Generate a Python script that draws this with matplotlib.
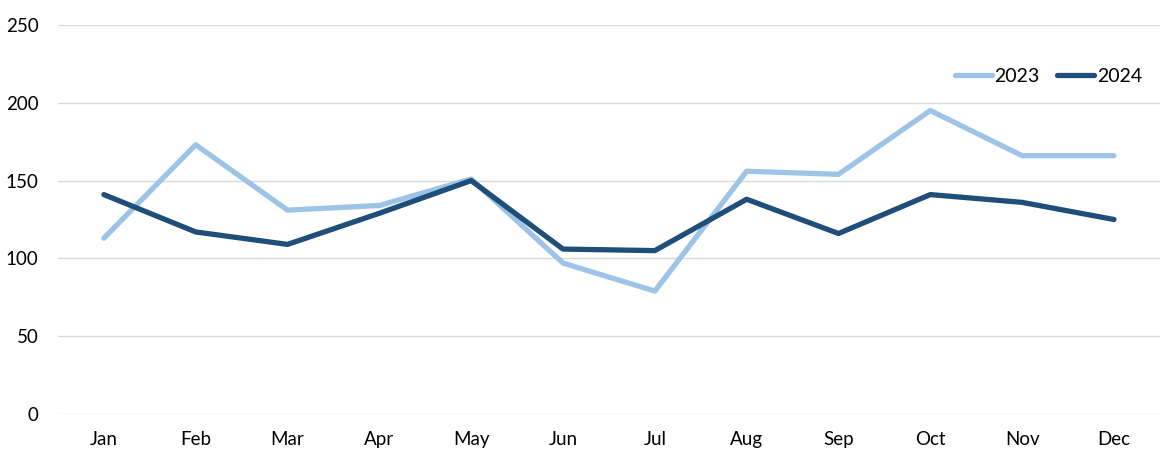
import matplotlib
matplotlib.use('Agg')
import matplotlib.pyplot as plt
import numpy as np

months = ['Jan', 'Feb', 'Mar', 'Apr', 'May', 'Jun', 'Jul', 'Aug', 'Sep', 'Oct', 'Nov', 'Dec']
sales_2023 = [113, 173, 131, 134, 151, 97, 79, 156, 154, 195, 166, 166]
sales_2024 = [141, 117, 109, 129, 150, 106, 105, 138, 116, 141, 136, 125]
yticks = [0, 50, 100, 150, 200, 250]

plt.rcParams['font.family'] = ['Lato', 'DejaVu Sans']

fig = plt.figure(figsize=(11.71, 4.70), dpi=100)
ax = fig.add_axes([0.0495, 0.119, 0.941, 0.828])

x = np.arange(len(months))
ax.plot(x, sales_2023, color='#9DC3E6', lw=3.8, solid_capstyle='round', solid_joinstyle='round', label='2023')
ax.plot(x, sales_2024, color='#1F4E79', lw=3.8, solid_capstyle='round', solid_joinstyle='round', label='2024')

ax.set_xlim(-0.5, len(months) - 0.5)
ax.set_ylim(0, 250)
ax.set_xticks(x)
ax.set_xticklabels(months)
ax.set_yticks(yticks)
ax.tick_params(axis='both', length=0, labelsize=13.5, colors='black')
ax.tick_params(axis='x', pad=12)
ax.tick_params(axis='y', pad=14)
ax.grid(axis='y', color='#D9D9D9', lw=1)
ax.set_axisbelow(True)
for s in ax.spines.values():
    s.set_visible(False)

ax.legend(loc='upper right', bbox_to_anchor=(1.0, 0.935), ncol=2, frameon=False, fontsize=14,
          handlelength=1.9, handletextpad=0.15, columnspacing=0.9)

fig.savefig('out.png', dpi=100)
